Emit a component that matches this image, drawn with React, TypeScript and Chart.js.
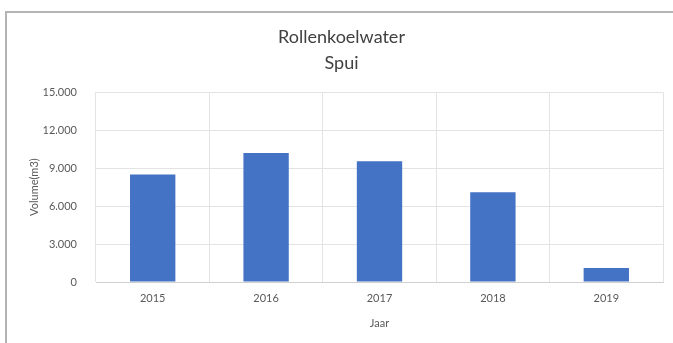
import React, { useEffect, useRef } from "react";
import { Chart, registerables } from "chart.js";

Chart.register(...registerables);

const categories = ["2015", "2016", "2017", "2018", "2019"];
const volumes = [8500, 10200, 9550, 7100, 1100];
const yTicks = [0, 3000, 6000, 9000, 12000, 15000];
const titleLines = ["Rollenkoelwater", "Spui"];
const yTitle = "Volume(m3)";
const xTitle = "Jaar";

const fmt = (v: number) => String(v).replace(/\B(?=(\d{3})+(?!\d))/g, ".");

export default function App() {
  const ref = useRef<HTMLCanvasElement>(null);
  useEffect(() => {
    document.body.style.margin = "0";
    document.body.style.overflow = "hidden";
    const font = "Lato, 'Noto Sans', sans-serif";
    const chart = new Chart(ref.current!, {
      type: "bar",
      data: {
        labels: categories,
        datasets: [
          {
            data: volumes,
            backgroundColor: "#4472C4",
            barPercentage: 0.4,
            categoryPercentage: 1,
          },
        ],
      },
      options: {
        animation: false,
        responsive: false,
        layout: { padding: { left: 20, right: 10, top: 14, bottom: 10 } },
        plugins: {
          legend: { display: false },
          tooltip: { enabled: false },
          title: {
            display: true,
            text: titleLines,
            color: "#404040",
            font: { family: font, size: 18, weight: "normal", lineHeight: 1.45 },
            padding: { top: 10, bottom: 16 },
          },
        },
        scales: {
          x: {
            grid: { color: "#e3e3e3", drawTicks: false, offset: true },
            border: { color: "#d0d0d0" },
            ticks: { color: "#595959", font: { family: font, size: 11 }, padding: 10 },
            title: {
              display: true,
              text: xTitle,
              color: "#595959",
              font: { family: font, size: 11 },
              padding: { top: 4, bottom: 3 },
            },
            afterFit: (s: any) => {
              s.height = 51;
            },
          },
          y: {
            min: 0,
            max: 15000,
            afterBuildTicks: (s: any) => {
              s.ticks = yTicks.map((v) => ({ value: v }));
            },
            grid: { color: "#e3e3e3", drawTicks: false },
            border: { display: false },
            ticks: {
              color: "#595959",
              font: { family: font, size: 11 },
              padding: 19,
              callback: (v: any) => fmt(Number(v)),
            },
            title: {
              display: true,
              text: yTitle,
              color: "#595959",
              font: { family: font, size: 11 },
              padding: { top: 8, bottom: 0 },
            },
            afterFit: (s: any) => {
              s.width = 76;
            },
          },
        },
      },
    });
    return () => chart.destroy();
  }, []);
  return (
    <div style={{ position: "relative", width: 673, height: 343, background: "#fff", overflow: "hidden" }}>
      <div
        style={{
          position: "absolute",
          left: 5,
          top: 11,
          width: 668,
          height: 332,
          boxSizing: "border-box",
          borderLeft: "2px solid #b4b4b4",
          borderTop: "2px solid #b4b4b4",
        }}
      />
      <canvas ref={ref} width={673} height={343} style={{ position: "absolute", left: 0, top: 0 }} />
    </div>
  );
}
